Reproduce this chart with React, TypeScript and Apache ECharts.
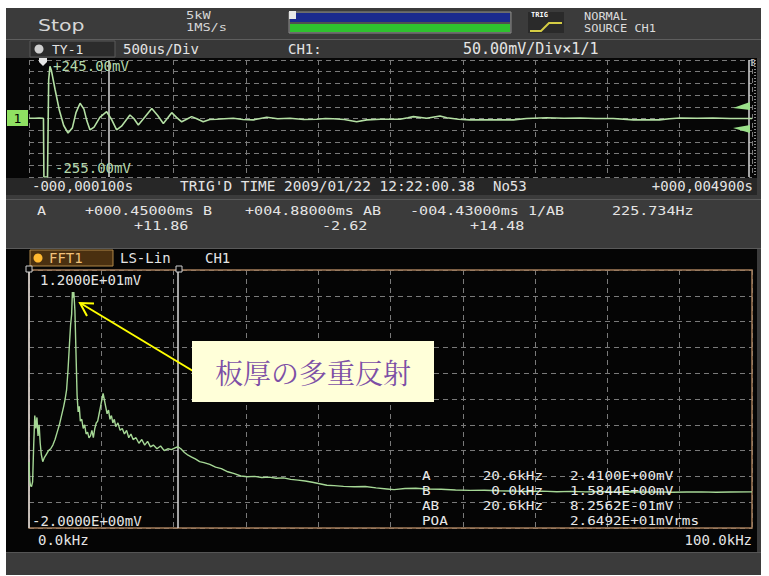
import React, { useEffect, useRef } from "react";
import * as echarts from "echarts";

// ---- Time waveform (CH1), time in ms, voltage in mV ----
const timeMs = [
  -0.1, -0.06, -0.03, -0.005, 0.0, 0.003, 0.02, 0.028, 0.036, 0.045, 0.055, 0.08, 0.11, 0.14, 0.17, 0.2,
  0.225, 0.253, 0.28, 0.3, 0.322, 0.35, 0.39, 0.437, 0.47, 0.506, 0.54, 0.598, 0.625, 0.656, 0.7, 0.749,
  0.79, 0.829, 0.86, 0.887, 0.92, 0.956, 0.99, 1.025, 1.06, 1.105, 1.15, 1.198, 1.25, 1.313, 1.38, 1.451,
  1.5, 1.544, 1.62, 1.705, 1.8, 1.89, 1.95, 2.004, 2.08, 2.166, 2.235, 2.33, 2.466, 2.52, 2.558, 2.65,
  2.742, 2.789, 2.87, 2.95, 3.088, 3.25, 3.34, 3.48, 3.6, 3.71, 3.82, 3.94, 4.08, 4.26, 4.33, 4.4, 4.52,
  4.63, 4.75, 4.9,
];
const voltMv = [
  -4, -4, -3, -4, -5, -255, -255, -255, 160, 218, 200, 120, 30, -35, -67, -45,
  20, 60, 35, -15, -54, -42, 0, 24, -8, -54, -38, 10, -5, -33, 0, 38,
  8, -26, -2, 20, 0, -19, -8, 3, -6, -19, -9, -8, -6, -4, -9, -11,
  -5, 0, -6, -4, -9, -8, -5, -6, -9, -19, -11, -8, -8, -2, 3, -4,
  6, -2, -8, -11, -11, -11, -5, -2, -4, -3, -5, -5, -11, -11, -6, -3, -4,
  -3, -5, -5,
];

// ---- FFT spectrum, frequency in kHz, amplitude in mV ----
const freqKHz = [
  0.0, 0.1, 0.2, 0.35, 0.5, 0.65, 0.8, 0.95, 1.1, 1.25, 1.4, 1.55, 1.7, 1.9, 2.1, 2.4, 2.7, 3.0, 3.3, 3.6,
  3.9, 4.2, 4.5, 4.8, 5.0, 5.2, 5.4, 5.6, 5.75, 5.9, 6.0, 6.1, 6.2, 6.35, 6.5, 6.65, 6.8, 6.95, 7.1, 7.3,
  7.5, 7.7, 7.9, 8.1, 8.3, 8.5, 8.7, 8.9, 9.1, 9.3, 9.5, 9.7, 9.9, 10.1, 10.25, 10.4, 10.6, 10.8, 11.0, 11.2,
  11.4, 11.6, 11.8, 12.0, 12.3, 12.6, 12.9, 13.2, 13.5, 13.8, 14.1, 14.4, 14.8, 15.2, 15.6, 16.0, 16.4, 16.8,
  17.2, 17.7, 18.2, 18.7, 19.2, 19.7, 20.2, 20.6, 21.0, 21.5, 22.0, 22.5, 23.0, 23.6, 24.2, 25.0, 25.8, 26.6,
  27.5, 28.4, 29.3, 30.2, 31.2, 32.2, 33.2, 34.2, 35.2, 36.2, 37.2, 38.2, 39.2, 40.2, 41.2, 42.2, 43.5, 45.0,
  46.5, 48.0, 49.5, 50.5, 52.0, 53.5, 55.0, 57.0, 59.0, 61.0, 63.0, 65.0, 67.0, 69.0, 71.0, 73.0, 75.0, 77.0,
  79.0, 81.0, 83.0, 85.0, 87.0, 89.0, 91.0, 93.0, 95.0, 97.0, 100.0,
];
const ampMv = [
  1.58, 0.6, 0.3, 0.25, 0.5, 2.5, 4.1, 3.4, 4.0, 3.0, 3.6, 2.6, 2.0, 1.6, 1.8, 2.0, 2.2, 2.3, 2.5, 2.8,
  3.2, 3.6, 4.1, 4.6, 5.0, 5.5, 6.6, 8.0, 9.0, 9.6, 10.8, 10.5, 10.8, 9.8, 7.5, 5.2, 4.3, 4.6, 3.8, 3.9,
  3.4, 3.6, 3.1, 3.2, 2.9, 3.0, 3.3, 2.9, 3.4, 3.7, 3.8, 4.2, 4.6, 5.0, 5.3, 5.0, 4.6, 4.2, 4.4, 3.9,
  4.1, 3.7, 3.9, 3.5, 3.7, 3.3, 3.4, 3.1, 3.3, 2.9, 3.1, 2.8, 2.9, 2.6, 2.8, 2.5, 2.7, 2.4,
  2.5, 2.3, 2.45, 2.2, 2.3, 2.25, 2.35, 2.41, 2.3, 2.1, 1.95, 1.85, 1.75, 1.6, 1.55, 1.45, 1.3, 1.22,
  1.05, 0.95, 0.82, 0.78, 0.8, 0.74, 0.76, 0.7, 0.72, 0.64, 0.6, 0.55, 0.48, 0.4, 0.32, 0.3, 0.26, 0.24,
  0.25, 0.18, 0.12, 0.08, 0.14, 0.16, 0.12, 0.1, 0.06, 0.04, 0.05, 0.02, 0.0, -0.02, 0.0, -0.03, -0.01, -0.04,
  -0.02, -0.05, -0.03, -0.05, -0.04, -0.06, -0.05, -0.04, -0.06, -0.05, -0.04,
];

// ---- axis ranges ----
const timeRangeMs = [-0.1, 4.9];
const voltRangeMv = [-255, 245];
const freqRangeKHz = [0, 100];
const ampRangeMv = [-2, 12];
const divisions = 10;

// ---- cursors ----
const timeCursorsMs = [0.45, 4.88];
const freqCursorsKHz = [20.6, 0.0];

// ---- texts ----
const statusTexts = { state: "Stop", memory: "5kW", rate: "1MS/s", trigMode: "NORMAL", trigSource: "SOURCE CH1" };
const topHeader = { name: "TY-1", timeDiv: "500us/Div", ch: "CH1:", voltDiv: "50.00mV/Div×1/1" };
const topLabels = { max: "+245.00mV", min: "-255.00mV", start: "-000,000100s", end: "+000,004900s", trig: "TRIG'D TIME 2009/01/22 12:22:00.38", no: "No53" };
const infoRow1 = ["A", "+000.45000ms B", "+004.88000ms AB", "-004.43000ms 1/AB", "225.734Hz"];
const infoRow2 = ["+11.86", "-2.62", "+14.48"];
const fftHeader = { name: "FFT1", mode: "LS-Lin", ch: "CH1" };
const fftLabels = { max: "1.2000E+01mV", min: "-2.0000E+00mV", start: "0.0kHz", end: "100.0kHz" };
const readoutNames = ["A", "B", "AB", "POA"];
const readoutFreqs = ["20.6kHz", "0.0kHz", "20.6kHz", ""];
const readoutValues = ["2.4100E+00mV", "1.5844E+00mV", "8.2562E-01mV", "2.6492E+01mVrms"];
const annotationText = "板厚の多重反射";

const MONO = "'DejaVu Sans Mono', 'Liberation Mono', monospace";

function txt(x: number, y: number, text: string, size = 14, fill = "#e4e4e4", align = "left", extra: any = {}) {
  return {
    type: "text",
    x,
    y,
    z: 10,
    silent: true,
    style: { text, fill, fontSize: size, fontFamily: MONO, textAlign: align, textVerticalAlign: "middle" },
    ...extra,
  };
}
function rect(x: number, y: number, w: number, h: number, fill: string, z = -5, stroke?: string, lw = 1) {
  return {
    type: "rect",
    z,
    silent: true,
    shape: { x, y, width: w, height: h },
    style: { fill, stroke: stroke || null, lineWidth: lw },
  };
}

function buildOption() {
  const wide = { scaleX: 1.16 };
  const graphics: any[] = [
    // instrument body
    rect(6, 8, 755, 567, "#3b3b3b", -20),
    rect(6, 39, 755, 1, "#5e5e5e", -9),
    rect(6, 40, 755, 18, "#373737", -9),
    rect(6, 58, 751, 120, "#060606", -8),
    rect(6, 178, 751, 17, "#272727", -8),
    rect(6, 199, 755, 1, "#5a5a5a", -8),
    rect(6, 248, 755, 1, "#5a5a5a", -8),
    rect(6, 249, 751, 303, "#050505", -8),
    rect(6, 552, 755, 1, "#555555", -8),

    // status bar
    {
      type: "text", x: 38, y: 25, z: 10, scaleX: 1.28, silent: true,
      style: { text: statusTexts.state, fill: "#d6d6d6", fontSize: 16, fontFamily: "'DejaVu Sans', sans-serif", textVerticalAlign: "middle" },
    },
    txt(186, 15.5, statusTexts.memory, 10.5, "#d6d6d6", "left", { scaleX: 1.3 }),
    txt(186, 27.5, statusTexts.rate, 10.5, "#d6d6d6", "left", { scaleX: 1.3 }),
    rect(289, 12, 222, 21, "#505050", 1, "#8a8a8a"),
    rect(290, 13, 220, 9, "#1b2a8e", 2),
    rect(290, 24, 220, 8, "#2fc22f", 2),
    rect(289, 11, 7, 8, "#e8e8e8", 3),
    rect(528, 12, 36, 21, "#2a2a2a", 1),
    {
      type: "text", x: 531, y: 15, z: 10, silent: true,
      style: { text: "TRIG", fill: "#ffffff", fontSize: 7, fontWeight: "bold", fontFamily: MONO, textVerticalAlign: "middle" },
    },
    {
      type: "polyline", z: 5, silent: true,
      shape: { points: [[530, 31], [541, 31], [549, 23], [562, 23]] },
      style: { stroke: "#d4cc44", lineWidth: 2, fill: null },
    },
    txt(584, 16.5, statusTexts.trigMode, 10.5, "#dcdcdc", "left", { scaleX: 1.14 }),
    txt(584, 28.5, statusTexts.trigSource, 10.5, "#dcdcdc", "left", { scaleX: 1.14 }),

    // top header row
    rect(30, 41, 85, 16, "#2c2c2c", 1, "#5a5a5a"),
    { type: "circle", z: 3, silent: true, shape: { cx: 39, cy: 49, r: 4.5 }, style: { fill: "#cfcfcf" } },
    txt(52, 49, topHeader.name, 13),
    txt(123, 49, topHeader.timeDiv, 14),
    txt(288, 49, topHeader.ch, 14),
    txt(463, 49, topHeader.voltDiv, 15),

    // top plot decorations
    txt(53, 66, topLabels.max, 14, "#b4d8ac"),
    txt(55, 168, topLabels.min, 14, "#b4d8ac"),
    rect(7, 110, 21, 16, "#8fe062", 3),
    txt(17.5, 118.5, "1", 13, "#000000", "center"),
    {
      type: "polygon", z: 6, silent: true,
      shape: { points: [[39, 58], [47, 58], [47, 62], [43, 66], [39, 62]] },
      style: { fill: "#e6e6e6" },
    },
    { type: "polygon", z: 6, silent: true, shape: { points: [[733, 108], [750, 102], [750, 110]] }, style: { fill: "#9be08a" } },
    { type: "polygon", z: 6, silent: true, shape: { points: [[733, 128], [750, 125], [750, 133]] }, style: { fill: "#9be08a" } },
    {
      type: "line", z: 6, silent: true,
      shape: { x1: 755, y1: 60, x2: 755, y2: 177 },
      style: { stroke: "#8a8a8a", lineWidth: 2, lineDash: [1, 2] },
    },
    txt(753, 63, "B", 8, "#d0d0d0", "center"),

    // time row
    txt(32, 186, topLabels.start, 14),
    txt(180, 186, topLabels.trig, 14, "#e4e4e4", "left", { scaleX: 1.03 }),
    txt(493, 186, topLabels.no, 14),
    txt(753, 186, topLabels.end, 14, "#e4e4e4", "right"),

    // info rows
    txt(37, 210, infoRow1[0], 13, "#e4e4e4", "left", wide),
    txt(85, 210, infoRow1[1], 13, "#e4e4e4", "left", wide),
    txt(245, 210, infoRow1[2], 13, "#e4e4e4", "left", wide),
    txt(410, 210, infoRow1[3], 13, "#e4e4e4", "left", wide),
    txt(612, 210, infoRow1[4], 13, "#e4e4e4", "left", wide),
    txt(134, 225.5, infoRow2[0], 13, "#e4e4e4", "left", wide),
    txt(322, 225.5, infoRow2[1], 13, "#e4e4e4", "left", wide),
    txt(470, 225.5, infoRow2[2], 13, "#e4e4e4", "left", wide),

    // FFT header
    rect(30, 250, 83, 16, "#4a3010", 1, "#b08848"),
    { type: "circle", z: 3, silent: true, shape: { cx: 38, cy: 258, r: 4.5 }, style: { fill: "#ffb830" } },
    txt(49, 258, fftHeader.name, 14, "#f2c27a"),
    txt(120, 258, fftHeader.mode, 14),
    txt(205, 258, fftHeader.ch, 14),

    // FFT frame
    {
      type: "rect", z: 1, silent: true,
      shape: { x: 29, y: 270, width: 723, height: 258 },
      style: { fill: null, stroke: "#a47c5a", lineWidth: 1.5 },
    },
    rect(26, 266, 6, 6, "#050505", 7, "#cfcfcf"),
    rect(176, 266, 6, 6, "#050505", 7, "#cfcfcf"),
    txt(40, 280, fftLabels.max, 14),
    txt(32, 521, fftLabels.min, 14),
    txt(38, 540, fftLabels.start, 14),
    txt(752, 540, fftLabels.end, 14, "#e4e4e4", "right"),
  ];

  readoutNames.forEach((n, i) => {
    const y = 475 + i * 15;
    graphics.push(txt(422, y, n, 13, "#e8e8e8", "left", { scaleX: 1.1 }));
    if (readoutFreqs[i]) graphics.push(txt(543, y, readoutFreqs[i], 13, "#e8e8e8", "right", { scaleX: 1.1 }));
    graphics.push(txt(570, y, readoutValues[i], 13, "#e8e8e8", "left", { scaleX: 1.1 }));
  });

  // annotation
  graphics.push(
    {
      type: "line", z: 30, silent: true,
      shape: { x1: 193, y1: 371, x2: 81, y2: 303.5 },
      style: { stroke: "#ffff00", lineWidth: 2 },
    },
    {
      type: "polyline", z: 30, silent: true,
      shape: { points: [[94, 303.5], [80, 303], [87, 316]] },
      style: { stroke: "#ffff00", lineWidth: 2, fill: null },
    },
    rect(192, 341, 242, 61, "#ffffd9", 31),
    {
      type: "text", x: 313, y: 372, z: 32, silent: true,
      style: {
        text: annotationText, fill: "#7d4fa6", fontSize: 28,
        fontFamily: "'Noto Serif CJK JP', 'Noto Sans CJK JP', sans-serif",
        textAlign: "center", textVerticalAlign: "middle",
      },
    }
  );

  const gridLine = { show: true, lineStyle: { color: "#7a7a7a", type: [5, 4], width: 1 } };
  const divAxis = (gridIndex: number, position: string) => ({
    type: "value", gridIndex, position, min: 0, max: divisions, interval: 1,
    axisLine: { show: false }, axisTick: { show: false }, axisLabel: { show: false },
    splitLine: gridLine,
  });
  const dataAxis = (gridIndex: number, range: number[]) => ({
    type: "value", gridIndex, min: range[0], max: range[1], show: false,
  });

  const cursorLine = (values: number[]) => ({
    silent: true,
    symbol: ["none", "none"],
    label: { show: false },
    lineStyle: { color: "#d8d8d8", type: "solid", width: 1.5 },
    data: values.map((v) => ({ xAxis: v })),
  });

  return {
    animation: false,
    backgroundColor: "#ffffff",
    grid: [
      { left: 29, top: 60, width: 723, height: 117 },
      { left: 29, top: 270, width: 723, height: 258 },
    ],
    xAxis: [
      dataAxis(0, timeRangeMs),
      divAxis(0, "top"),
      dataAxis(1, freqRangeKHz),
      divAxis(1, "top"),
    ],
    yAxis: [
      dataAxis(0, voltRangeMv),
      divAxis(0, "right"),
      dataAxis(1, ampRangeMv),
      divAxis(1, "right"),
    ],
    series: [
      {
        type: "line",
        xAxisIndex: 0,
        yAxisIndex: 0,
        data: timeMs.map((t, i) => [t, voltMv[i]]),
        showSymbol: false,
        lineStyle: { color: "#b4e0a4", width: 1.6 },
        markLine: cursorLine(timeCursorsMs),
        z: 5,
      },
      {
        type: "line",
        xAxisIndex: 2,
        yAxisIndex: 2,
        data: freqKHz.map((f, i) => [f, ampMv[i]]),
        showSymbol: false,
        lineStyle: { color: "#a6d896", width: 1.4 },
        markLine: cursorLine(freqCursorsKHz),
        z: 5,
      },
    ],
    graphic: { elements: graphics },
  };
}

export default function App() {
  const ref = useRef<HTMLDivElement>(null);
  useEffect(() => {
    document.body.style.margin = "0";
    const chart = echarts.init(ref.current!, null, { renderer: "svg" });
    chart.setOption(buildOption() as any);
    return () => chart.dispose();
  }, []);
  return <div ref={ref} style={{ width: 769, height: 576 }} />;
}
